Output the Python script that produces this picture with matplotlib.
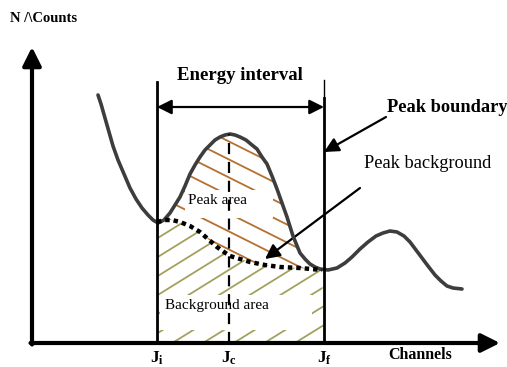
import numpy as np
import matplotlib.pyplot as plt
from matplotlib.patches import Polygon, Rectangle

plt.rcParams['font.family'] = ['Liberation Serif', 'DejaVu Serif']
plt.rcParams['mathtext.fontset'] = 'custom'
plt.rcParams['mathtext.rm'] = 'Liberation Serif'
plt.rcParams['mathtext.bf'] = 'Liberation Serif:bold'

# spectrum (channel, counts)
chan = [66, 69, 73, 77, 81, 86, 92, 98, 104, 110, 116, 121, 126, 132, 138,
        143, 148, 153, 158, 163, 168, 173, 178, 183, 188, 193, 198, 203, 208,
        214, 220, 225, 230, 235, 240, 245, 250, 255, 261, 268, 273, 278, 283,
        288, 296, 305, 313, 320, 328, 336, 344, 351, 358, 365, 372, 378, 384,
        390, 396, 403, 409, 415, 421, 430]
counts = [248, 239, 225, 211, 197, 183, 169, 155, 144, 135, 128, 123, 120, 123,
          130, 138, 146, 157, 169, 178, 186, 193, 198, 203, 206, 208, 209, 208,
          206, 203, 198, 194, 186, 179, 167, 154, 140, 126, 107, 90, 84, 79, 76,
          74, 73, 75, 80, 86, 94, 101, 107, 110, 112, 111, 107, 101, 93, 85, 77,
          68, 62, 57, 55, 54]

# peak background (dotted)
bg_chan = [125, 133, 140, 148, 158, 168, 176, 185, 192, 198, 208, 218, 233,
           248, 268, 290]
bg_counts = [121, 123, 123, 121, 117, 111, 104, 96, 91, 87, 84, 81, 78, 76,
             75, 73]

J_i, J_c, J_f = 125, 197, 292
x_max, y_max = 468, 296

fig = plt.figure(figsize=(5.07, 3.67), dpi=100)
ax = fig.add_axes([0, 0, 1, 1])
ax.set_xlim(-32, 475)
ax.set_ylim(-24, 343)
ax.axis('off')

chan = np.array(chan)
counts = np.array(counts)
sel = (chan >= J_i) & (chan <= J_f)

# peak area polygon: curve on top, background below
peak_xy = list(zip(chan[sel], counts[sel])) + list(zip(bg_chan[::-1], bg_counts[::-1]))
bgr_xy = list(zip(bg_chan, bg_counts)) + [(J_f, 0), (J_i, 0)]

def hatch(poly_xy, slope, step, color):
    poly = Polygon(poly_xy, closed=True, facecolor='none', edgecolor='none')
    ax.add_patch(poly)
    xs = np.array([-50, 500])
    for c in np.arange(-600, 600, step):
        ln, = ax.plot(xs, slope * xs + c, color=color, lw=1.3, zorder=1)
        ln.set_clip_path(poly)

hatch(bgr_xy, 0.62, 19, '#a3a15e')
hatch(peak_xy, -0.5, 18, '#b3702f')

# white label boxes
ax.add_patch(Rectangle((153, 125), 88, 28, facecolor='white', edgecolor='none', zorder=2))
ax.add_patch(Rectangle((128, 13), 152, 35, facecolor='white', edgecolor='none', zorder=2))
ax.text(156, 142, 'Peak area', fontsize=11, va='center', ha='left', zorder=3)
ax.text(133, 37, 'Background area', fontsize=11, va='center', ha='left', zorder=3)

# spectrum and background
ax.plot(chan, counts, color='#3d3d3d', lw=2.6, solid_capstyle='round',
        solid_joinstyle='round', zorder=4)
ax.plot(bg_chan, bg_counts, color='black', lw=3.2, linestyle=(0, (1, 0.9)), zorder=5)

# boundaries
ax.plot([J_i, J_i], [0, 261], color='black', lw=2, zorder=4)
ax.plot([J_f, J_f], [0, 245], color='black', lw=2, zorder=4)
ax.plot([J_f, J_f], [245, 263], color='black', lw=1, zorder=4)
ax.plot([J_c, J_c], [0, 209], color='black', lw=1.6, linestyle=(0, (5, 3.5)), zorder=4)

# axes arrows
arr = dict(arrowstyle='-|>', color='black', lw=3, mutation_scale=28, shrinkA=0, shrinkB=0)
ax.annotate('', xy=(0, y_max), xytext=(0, -1.5), arrowprops=arr)
ax.annotate('', xy=(x_max, 0), xytext=(-1.5, 0), arrowprops=arr)

# energy interval
ax.annotate('', xy=(J_f, 236), xytext=(J_i, 236),
            arrowprops=dict(arrowstyle='<|-|>', color='black', lw=1.6,
                            mutation_scale=22, shrinkA=0, shrinkB=0))
ax.text(208, 268, 'Energy interval', fontsize=13.5, fontweight='bold', ha='center', va='center')

# peak boundary
ax.annotate('', xy=(J_f, 191), xytext=(354, 226),
            arrowprops=dict(arrowstyle='-|>', color='black', lw=1.6,
                            mutation_scale=22, shrinkA=0, shrinkB=0))
ax.text(355, 236, 'Peak boundary', fontsize=13.2, fontweight='bold', ha='left', va='center')

# peak background
ax.annotate('', xy=(233, 84), xytext=(328, 155),
            arrowprops=dict(arrowstyle='-|>', color='black', lw=1.6,
                            mutation_scale=22, shrinkA=0, shrinkB=0))
ax.text(332, 180, 'Peak background', fontsize=13.2, ha='left', va='center')

# axis labels
ax.text(-22, 324, 'N /\\Counts', fontsize=10.5, fontweight='bold', ha='left', va='center')
ax.text(356, -12, 'Channels', fontsize=11.5, fontweight='bold', ha='left', va='center')
for x, lab in [(J_i, 'i'), (J_c, 'c'), (J_f, 'f')]:
    ax.text(x, -15, r'$\mathbf{J_%s}$' % lab, fontsize=12.5, ha='center', va='center')

fig.savefig('out.png', dpi=100)
